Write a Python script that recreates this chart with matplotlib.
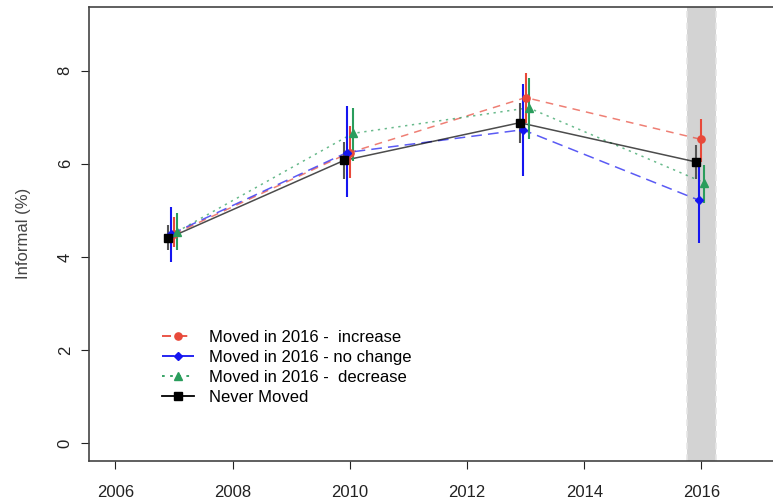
import numpy as np
import matplotlib
matplotlib.use("Agg")
import matplotlib.pyplot as plt

plt.rcParams['font.family'] = ['Liberation Sans', 'DejaVu Sans']

years = np.array([2007, 2010, 2013, 2016])

# group means and interval ends (%)
increase = [4.49, 6.24, 7.42, 6.52]
increase_lo = [4.21, 5.69, 6.88, 6.04]
increase_hi = [4.86, 6.82, 7.95, 6.97]

nochange = [4.49, 6.24, 6.73, 5.22]
nochange_lo = [3.89, 5.28, 5.74, 4.30]
nochange_hi = [5.07, 7.23, 7.72, 6.10]

decrease = [4.54, 6.65, 7.20, 5.59]
decrease_lo = [4.14, 6.05, 6.54, 5.16]
decrease_hi = [4.94, 7.19, 7.83, 5.98]

never = [4.40, 6.07, 6.88, 6.04]
never_lo = [4.14, 5.67, 6.45, 5.68]
never_hi = [4.68, 6.47, 7.31, 6.41]

labels = ["Moved in 2016 -  increase", "Moved in 2016 - no change",
          "Moved in 2016 -  decrease", "Never Moved"]

fig = plt.figure(figsize=(7.73, 5.04), dpi=100)
ax = fig.add_axes([89.3 / 773, 43 / 504, 1 - 89.3 / 773, 454.3 / 504])

# 2016 band
ax.axvspan(2015.75, 2016.25, facecolor='#d3d3d3', edgecolor='none', zorder=0)
for xv in (2015.75, 2016.25):
    ax.axvline(xv, color='#e6e6e6', lw=1.2, ls=(0, (4, 3)), zorder=0.5)

series = [
    (increase, increase_lo, increase_hi, 0.0, '#e8493a', 'o', (0, (5, 4)), 5.2),
    (nochange, nochange_lo, nochange_hi, -0.05, '#1515f0', 'D', (0, (7, 4)), 4.0),
    (decrease, decrease_lo, decrease_hi, 0.05, '#2a9d5c', '^', (0, (1.5, 3)), 6.2),
    (never, never_lo, never_hi, -0.1, '#000000', 's', '-', 5.2),
]

handles = []
for (vals, lo, hi, off, col, mk, ls, ms), lab in zip(series, labels):
    xs = years + off
    vals = np.array(vals)
    ax.plot(xs, vals, color=col, ls=ls, lw=1.1, alpha=0.7, zorder=2)
    ecol = '#555555' if col == '#000000' else col
    ax.vlines(xs, lo, hi, color=ecol, lw=1.5, zorder=3)
    ax.plot(xs, vals, ls='none', marker=mk, ms=ms, color=col, mec=col, zorder=4)
    h, = ax.plot([], [], color=col, ls=ls, lw=1.3, marker=mk, ms=ms)
    handles.append(h)

ax.set_xlim(2005.556, 2017.22)
ax.set_ylim(-0.38, 9.37)
ax.set_xticks([2006, 2008, 2010, 2012, 2014, 2016])
ax.set_yticks([0, 2, 4, 6, 8])
ax.tick_params(axis='x', length=6, pad=11, labelsize=12, colors='#222222')
ax.tick_params(axis='y', length=6, pad=6, labelsize=12, colors='#222222')
for t in ax.get_yticklabels():
    t.set_rotation(90)
    t.set_va('center')
ax.set_ylabel("Informal (%)", fontsize=12, color='#444444', labelpad=19)

for s in ('left', 'top', 'bottom'):
    ax.spines[s].set_color('#444444')
    ax.spines[s].set_linewidth(1.2)
ax.spines['right'].set_visible(False)

fig.legend(handles, labels, loc='upper left',
           bbox_to_anchor=(162 / 773, 1 - 330 / 504), frameon=False,
           fontsize=12, handlelength=1.9, handletextpad=0.9,
           labelspacing=0.3, borderaxespad=0, borderpad=0)

fig.savefig("out.png", dpi=100)
